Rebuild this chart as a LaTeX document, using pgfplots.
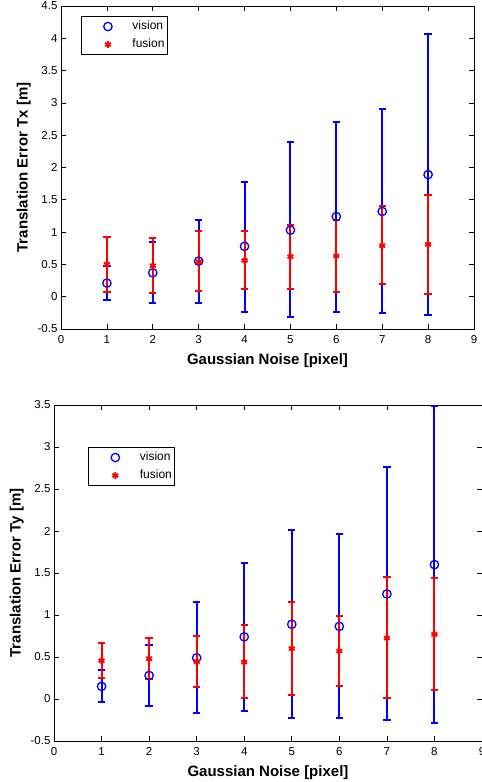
\documentclass[border=0pt]{standalone}
\usepackage{pgfplots}
\pgfplotsset{compat=1.18}
\usepackage{pgfplotstable}
\usepackage{fontspec}
\setmainfont{Liberation Sans}
\definecolor{mblue}{RGB}{0,0,255}
\definecolor{mred}{RGB}{255,0,0}

\pgfplotstableread{
x y ep em
1 0.21 0.26 0.26
2 0.37 0.47 0.46
3 0.55 0.64 0.65
4 0.78 0.99 1.01
5 1.03 1.36 1.34
6 1.24 1.46 1.47
7 1.32 1.58 1.57
8 1.89 2.17 2.17
}\visionTx
\pgfplotstableread{
x y ep em
1 0.50 0.42 0.42
2 0.48 0.43 0.42
3 0.54 0.48 0.45
4 0.56 0.46 0.44
5 0.62 0.49 0.50
6 0.63 0.56 0.56
7 0.79 0.61 0.60
8 0.81 0.76 0.77
}\fusionTx
\pgfplotstableread{
x y ep em
1 0.15 0.19 0.18
2 0.28 0.36 0.36
3 0.49 0.66 0.66
4 0.74 0.875 0.88
5 0.89 1.12 1.12
6 0.865 1.095 1.095
7 1.25 1.51 1.50
8 1.60 1.89 1.89
}\visionTy
\pgfplotstableread{
x y ep em
1 0.456 0.21 0.21
2 0.48 0.245 0.245
3 0.444 0.305 0.30
4 0.44 0.44 0.43
5 0.60 0.55 0.55
6 0.571 0.42 0.415
7 0.726 0.725 0.715
8 0.77 0.67 0.665
}\fusionTy

\pgfplotsset{
  mstyle/.style={
    scale only axis,
    axis line style={line width=0.9bp},
    tick style={line width=0.7bp, black},
    major tick length=5bp,
    tick align=inside,
    xmin=0, xmax=9,
    xtick={0,...,9},
    ticklabel style={font=\fontsize{11.5bp}{13bp}\selectfont},
    xticklabel style={yshift=-3bp},
    xlabel={Gaussian Noise [pixel]},
    label style={font=\fontsize{15bp}{17bp}\selectfont\bfseries},
    xlabel style={yshift=-3bp},
    legend cell align=left,
    legend style={draw=black, line width=1.1bp, inner xsep=0pt, inner ysep=4bp,
      font=\fontsize{12bp}{14bp}\selectfont, row sep=6bp,
      nodes={inner xsep=3bp, inner ysep=0pt, text height=9bp, text depth=3bp}},
    legend image code/.code={\path (0bp,0bp) (47bp,0bp); \draw[##1] plot coordinates {(26bp,0bp)};},
  },
  vstyle/.style={only marks, mark=o, mark size=4.2bp, color=mblue, mark options={line width=1.3bp},
    error bars/.cd, y dir=both, y explicit,
    error bar style={line width=2bp, mblue},
    error mark options={rotate=90, mark size=3.7bp, line width=2bp, mblue}},
  fstyle/.style={only marks, mark=asterisk, mark size=3.4bp, color=mred, mark options={line width=1.8bp},
    error bars/.cd, y dir=both, y explicit,
    error bar style={line width=2bp, mred},
    error mark options={rotate=90, mark size=3.7bp, line width=2bp, mred}},
}

\begin{document}
\begin{tikzpicture}
\useasboundingbox (0,0) rectangle (482bp,782bp);
\begin{axis}[mstyle,
  at={(61bp,453bp)}, anchor=south west,
  width=413bp, height=323bp,
  ymin=-0.5, ymax=4.5,
  ytick={-0.5,0,0.5,1,1.5,2,2.5,3,3.5,4,4.5},
  yticklabels={-0.5,0,0.5,1,1.5,2,2.5,3,3.5,4,4.5},
  xticklabels={0,1,2,3,4,5,6,7,8,9},
  ylabel={Translation Error Tx [m]},
  legend style={at={(0.048,0.969)}, anchor=north west},
]
\addplot[vstyle] table[x=x, y=y, y error plus=ep, y error minus=em] {\visionTx};
\addlegendentry{vision}
\addplot[fstyle] table[x=x, y=y, y error plus=ep, y error minus=em] {\fusionTx};
\addlegendentry{fusion}
\end{axis}

\begin{axis}[mstyle,
  at={(54bp,41bp)}, anchor=south west,
  width=428bp, height=336bp,
  ymin=-0.5, ymax=3.5,
  ytick={-0.5,0,0.5,1,1.5,2,2.5,3,3.5},
  yticklabels={-0.5,0,0.5,1,1.5,2,2.5,3,3.5},
  xticklabels={0,1,2,3,4,5,6,7,8,9},
  ylabel={Translation Error Ty [m]},
  legend style={at={(0.080,0.875)}, anchor=north west},
]
\addplot[vstyle] table[x=x, y=y, y error plus=ep, y error minus=em] {\visionTy};
\addlegendentry{vision}
\addplot[fstyle] table[x=x, y=y, y error plus=ep, y error minus=em] {\fusionTy};
\addlegendentry{fusion}
\end{axis}
\end{tikzpicture}
\end{document}
